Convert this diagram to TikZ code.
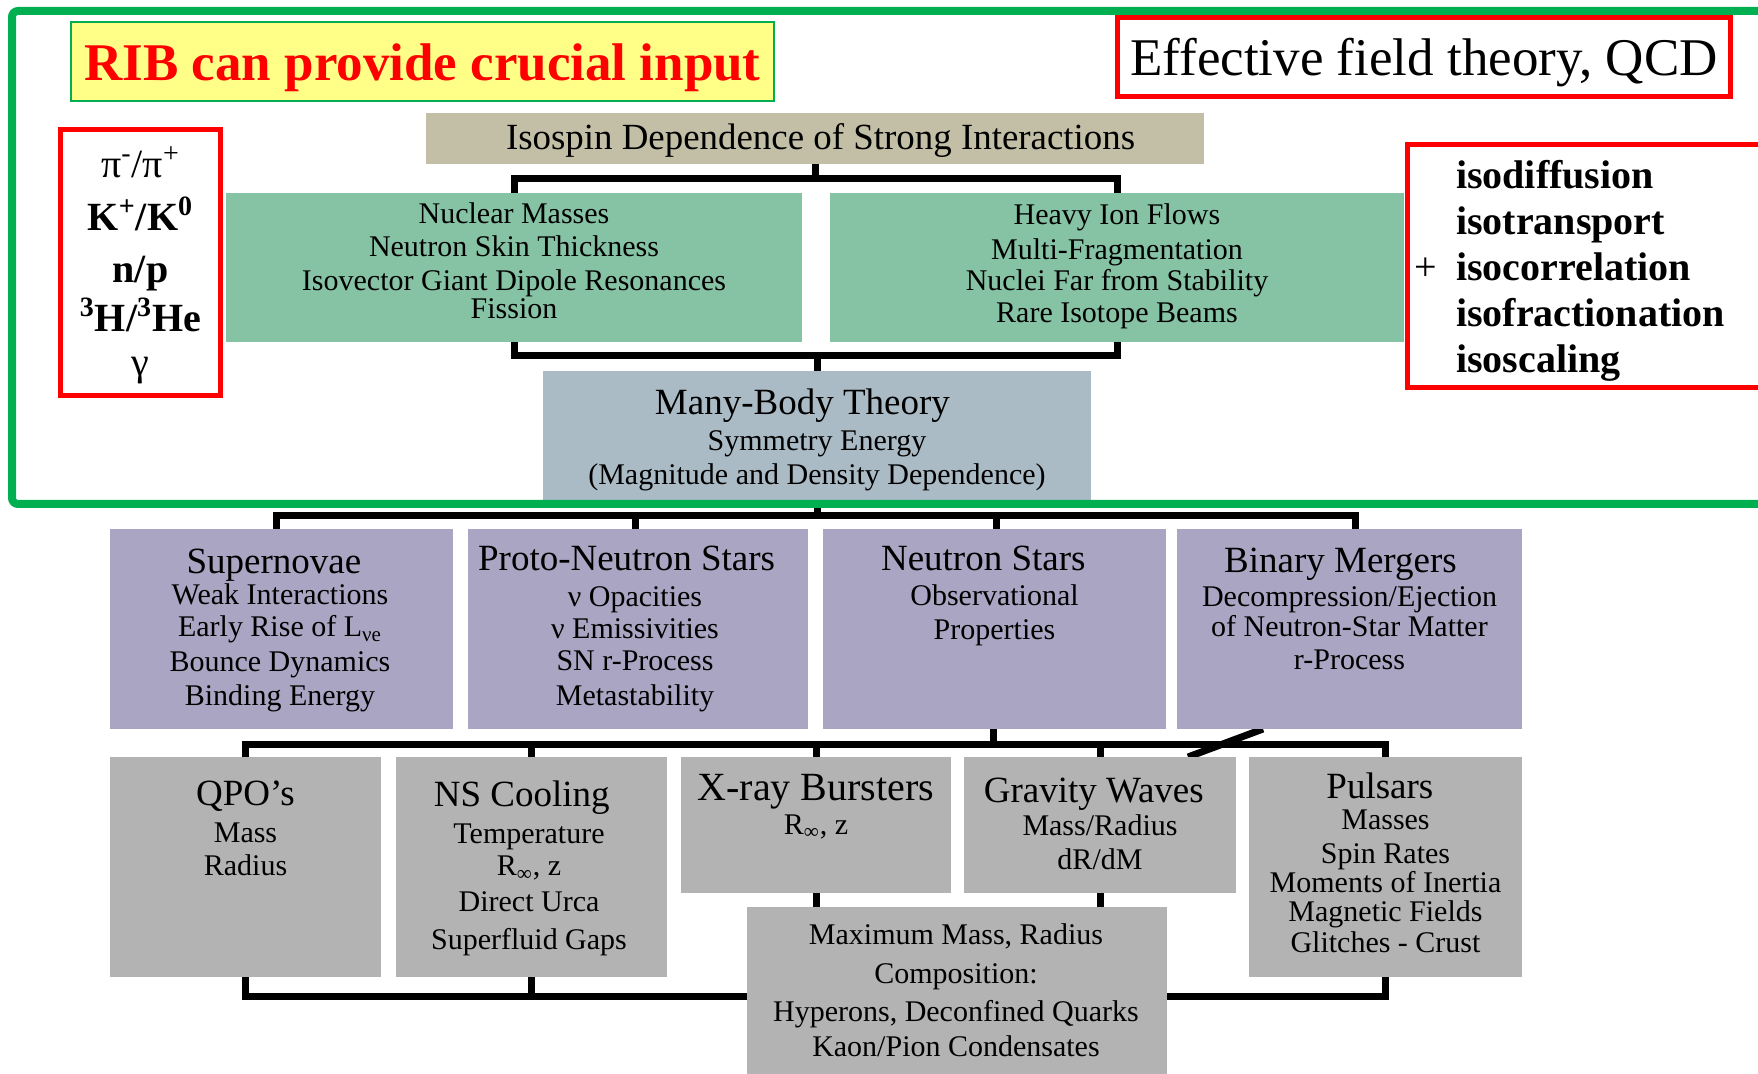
\documentclass[tikz,border=0pt]{standalone}
\usepackage{fontspec}
\setmainfont{Liberation Serif}
\usetikzlibrary{backgrounds}
\definecolor{cFrame}{HTML}{00B050}
\definecolor{cYel}{HTML}{FFFF88}
\definecolor{cTan}{HTML}{C2BFA6}
\definecolor{cGrn}{HTML}{86C2A4}
\definecolor{cBlu}{HTML}{ABBBC6}
\definecolor{cPur}{HTML}{AAA5C2}
\definecolor{cGry}{HTML}{B3B3B3}
\definecolor{cRed}{HTML}{FF0000}
\newcommand{\myfs}[2]{\fontsize{#1}{#2}\selectfont}
% title shifted left by half of the kern
\newcommand{\ttl}[2]{\hbox{\myfs{18.5}{20}#1\kern#2}}
\begin{document}
\begin{tikzpicture}[x=0.5pt,y=-0.5pt,
  box/.style={inner sep=0pt,outer sep=0pt,draw=none},
  conn/.style={line width=3.5pt,draw=black},
  txt/.style={align=center,inner sep=0pt,outer sep=0pt,text=black,anchor=north,font=\myfs{15}{16}},
  ctxt/.style={inner sep=0pt,outer sep=0pt,anchor=center},
  redbox/.style={draw=cRed,line width=2.5pt,fill=white,inner sep=0pt,outer sep=0pt}
]
\useasboundingbox (0,0) rectangle (1758,1074);
\clip (0,0) rectangle (1758,1074);

% ---------- top area ----------
\node[box,draw=cFrame,line width=1pt,fill=cYel,minimum width=351.5pt,minimum height=39.5pt] (rib) at (422.5,61.5) {};
\node[ctxt,text=cRed,font=\bfseries\myfs{26.5}{30}] (ribt) at ([yshift=-3pt]rib.center) {RIB can provide crucial input};
\node[redbox,minimum width=306.5pt,minimum height=39.5pt] (eft) at (1424,57) {};
\node[ctxt,font=\myfs{26.5}{30}] (eftt) at ([yshift=-2.8pt]eft.center) {Effective field theory, QCD};
\node[redbox,minimum width=80pt,minimum height=133pt] (lred) at (140.5,262.5) {};
\node[txt,font=\myfs{20}{25}] (lredt) at ([yshift=-8.75pt]lred.north)
  {π\textsuperscript{-}/π\textsuperscript{+}\\[1.1pt]
   \textbf{K\textsuperscript{+}/K\textsuperscript{0}}\\[1.1pt]
   \textbf{n/p}\\[-0.2pt]
   \textbf{\textsuperscript{3}H/\textsuperscript{3}He}\\[-3.2pt]
   γ};
\node[redbox,minimum width=196.25pt,minimum height=121.5pt] (rred) at (1603.75,266) {};
\node[txt,align=left,anchor=north west,font=\bfseries\myfs{20}{23}] (rredt) at (1456,160)
  {isodiffusion\\isotransport\\\llap{\mdseries+\hspace{9.5pt}}isocorrelation\\isofractionation\\isoscaling};

% ---------- boxes ----------
\node[box,fill=cTan,minimum width=389pt,minimum height=25.5pt] (iso) at (815,138.5) {};
\node[ctxt,font=\myfs{18.45}{20}] (isot) at ([yshift=-1.1pt,xshift=2.8pt]iso.center) {Isospin Dependence of Strong Interactions};
\node[box,fill=cGrn,minimum width=288pt,minimum height=74.5pt] (g1) at (514,267.5) {};
\node[box,fill=cGrn,minimum width=287pt,minimum height=74.5pt] (g2) at (1117,267.5) {};
\node[box,fill=cBlu,minimum width=274pt,minimum height=64.5pt] (mb) at (817,435.5) {};

\node[box,fill=cPur,minimum width=171.5pt,minimum height=100pt] (sn) at (281.5,629) {};
\node[box,fill=cPur,minimum width=170pt,minimum height=100pt] (pns) at (638,629) {};
\node[box,fill=cPur,minimum width=171.5pt,minimum height=100pt] (ns) at (994.5,629) {};
\node[box,fill=cPur,minimum width=172.5pt,minimum height=100pt] (bm) at (1349.5,629) {};

\node[box,fill=cGry,minimum width=135.5pt,minimum height=110pt] (qpo) at (245.5,867) {};
\node[box,fill=cGry,minimum width=135.5pt,minimum height=110pt] (nsc) at (531.5,867) {};
\node[box,fill=cGry,minimum width=135pt,minimum height=68pt] (xrb) at (816,825) {};
\node[box,fill=cGry,minimum width=136pt,minimum height=68pt] (gw) at (1100,825) {};
\node[box,fill=cGry,minimum width=136.5pt,minimum height=110pt] (psr) at (1385.5,867) {};
\node[box,fill=cGry,minimum width=210pt,minimum height=96.5pt] (mm) at (957,1003.5) {};

% ---------- texts ----------
\node[txt,font=\myfs{15}{16.5}] (g1t) at ([yshift=-4.7pt]g1.north)
  {Nuclear Masses\\Neutron Skin Thickness\\[0.5pt]Isovector Giant Dipole Resonances\\[-2.5pt]Fission};
\node[txt,font=\myfs{15}{16.5}] (g2t) at ([yshift=-5.2pt]g2.north)
  {Heavy Ion Flows\\[1pt]Multi-Fragmentation\\[-1pt]Nuclei Far from Stability\\[-0.5pt]Rare Isotope Beams};
\node[txt,font=\myfs{15}{16.5}] (mbt) at ([yshift=-8.7pt]mb.north)
  {\ttl{Many-Body Theory}{14.6pt}\\[1.5pt]Symmetry Energy\\[0.5pt](Magnitude and Density Dependence)};

\node[txt] (snt) at ([yshift=-10.2pt,xshift=-0.75pt]sn.north)
  {\ttl{Supernovae}{6pt}\\[-0.5pt]Weak Interactions\\Early Rise of L\textsubscript{νe}\\[1.5pt]Bounce Dynamics\\[1pt]Binding Energy};
\node[txt] (pnst) at ([yshift=-8.3pt,xshift=-1.5pt]pns.north)
  {\ttl{Proto-Neutron Stars}{8.4pt}\\[2.4pt]ν Opacities\\ν Emissivities\\SN r-Process\\[1.5pt]Metastability};
\node[txt] (nst) at ([yshift=-8.3pt]ns.north)
  {\ttl{Neutron Stars}{11.2pt}\\[1.9pt]Observational\\[1pt]Properties};
\node[txt] (bmt) at ([yshift=-9.7pt]bm.north)
  {\ttl{Binary Mergers}{9pt}\\[1pt]Decompression/Ejection\\[-1pt]of Neutron-Star Matter\\[0.5pt]r-Process};

\node[txt] (qpot) at ([yshift=-11.8pt]qpo.north)
  {\ttl{QPO’s}{0pt}\\[2.4pt]Mass\\[0.5pt]Radius};
\node[txt] (nsct) at ([yshift=-11.7pt,xshift=-1.25pt]nsc.north)
  {\ttl{NS Cooling}{7.2pt}\\[2.9pt]Temperature\\R\textsubscript{∞}, z\\[2pt]Direct Urca\\[3pt]Superfluid Gaps};
\node[txt] (xrbt) at ([yshift=-8.9pt]xrb.north)
  {{\myfs{20}{22}X-ray Bursters}\\[0.8pt]R\textsubscript{∞}, z};
\node[txt] (gwt) at ([yshift=-10.3pt]gw.north)
  {\ttl{Gravity Waves}{6.2pt}\\[0.9pt]Mass/Radius\\[1pt]dR/dM};
\node[txt] (psrt) at ([yshift=-7.8pt]psr.north)
  {\ttl{Pulsars}{5.6pt}\\[-0.6pt]Masses\\[1pt]Spin Rates\\[-1.5pt]Moments of Inertia\\[-1.5pt]Magnetic Fields\\[-0.5pt]Glitches - Crust};
\node[txt] (mmt) at ([yshift=-8.2pt,xshift=-0.5pt]mm.north)
  {Maximum Mass, Radius\\[3.5pt]Composition:\\[3pt]Hyperons, Deconfined Quarks\\[1.5pt]Kaon/Pion Condensates};

% ---------- green frame ----------
\node[draw=cFrame,line width=4pt,rounded corners=3pt,inner sep=0pt,minimum width=894pt,minimum height=246.5pt] (frame) at (906,257.5) {};

% ---------- connectors ----------
\begin{pgfonlayer}{background}
\coordinate (isoj) at ([yshift=-7.5pt]iso.south);
\draw[conn] (iso.south) -- (isoj);
\draw[conn] (g1.north) |- (isoj) -| (g2.north);
\coordinate (gj) at ([yshift=7.5pt]mb.north);
\draw[conn] (g1.south) |- (gj) -| (g2.south);
\draw[conn] (gj) -- (mb.north);

\coordinate (mbj) at ([yshift=-8pt]mb.south);
\draw[conn] (mb.south) -- (mbj);
\draw[conn] ([xshift=-2.75pt]sn.north) |- (mbj) -| ([xshift=2.75pt]bm.north);
\draw[conn] ([xshift=-1.5pt]pns.north) -- ([xshift=-1.5pt]pns.north |- mbj);
\draw[conn] ([xshift=0.75pt]ns.north) -- ([xshift=0.75pt]ns.north |- mbj);

\coordinate (nsj) at ([yshift=-8pt,xshift=-0.75pt]ns.south);
\draw[conn] ([xshift=-0.75pt]ns.south) -- (nsj);
\draw[conn] (qpo.north) |- (nsj) -| (psr.north);
\draw[conn] (nsc.north) -- (nsc.north |- nsj);
\draw[conn] (xrb.north) -- (xrb.north |- nsj);
\draw[conn] (gw.north) -- (gw.north |- nsj);
\coordinate (d1) at ([xshift=-43.25pt]bm.south);
\coordinate (d2) at ([xshift=-24pt]gw.north east);
\draw[conn] (d1) -- (d2);

\draw[conn] (xrb.south) -- (xrb.south |- mm.north);
\draw[conn] (gw.south) -- (gw.south |- mm.north);
\coordinate (bj) at ([yshift=-9.5pt]qpo.south);
\draw[conn] (qpo.south) -- (bj) -| (psr.south);
\draw[conn] (nsc.south) -- (nsc.south |- bj);
\end{pgfonlayer}
\end{tikzpicture}
\end{document}
